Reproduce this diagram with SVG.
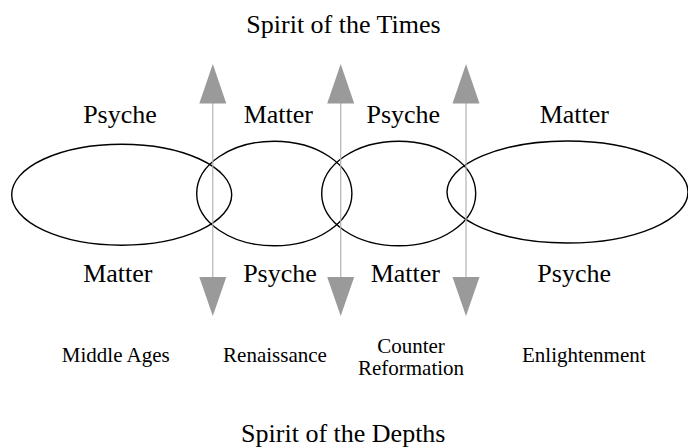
<svg xmlns="http://www.w3.org/2000/svg" width="688" height="448" viewBox="0 0 688 448">
  <style>
    .lbl { font-family: "Liberation Serif", "Times New Roman", serif; fill: #000; text-anchor: middle; }
    .big { font-size: 26px; }
    .era { font-size: 21px; }
    .ring { fill: none; stroke: #000; stroke-width: 1.4; }
    .axis { stroke: #b3b3b3; stroke-width: 1.2; fill: none; }
    .head { fill: #9a9a9a; stroke: none; }
  </style>
  <defs>
    <!-- double-headed vertical arrow, centred at x=0 -->
    <g id="dbl-arrow">
      <line class="axis" x1="0" y1="100" x2="0" y2="280"/>
      <polygon class="head" points="0,64 13.5,103.5 -13.5,103.5"/>
      <polygon class="head" points="0,316 13.5,277 -13.5,277"/>
    </g>
  </defs>
  <rect width="688" height="448" fill="#fff"/>

  <text id="title-top" class="lbl big" x="343.5" y="33">Spirit of the Times</text>

  <g id="ellipses">
    <g id="middle-ages"><ellipse class="ring" cx="121.7" cy="194.7" rx="110" ry="50.5"/></g>
    <g id="renaissance"><ellipse class="ring" cx="274.3" cy="193.5" rx="77.6" ry="52.3"/></g>
    <g id="counter-reformation"><ellipse class="ring" cx="398.7" cy="193.5" rx="77" ry="52.3"/></g>
    <g id="enlightenment"><ellipse class="ring" cx="567.5" cy="192" rx="120.5" ry="51"/></g>
  </g>

  <g id="connectors">
    <use href="#dbl-arrow" x="212.8"/>
    <use href="#dbl-arrow" x="340.7"/>
    <use href="#dbl-arrow" x="466"/>
  </g>

  <g id="upper-labels">
    <text class="lbl big" x="120" y="123.3">Psyche</text>
    <text class="lbl big" x="278.3" y="123.3">Matter</text>
    <text class="lbl big" x="403.3" y="123.3">Psyche</text>
    <text class="lbl big" x="574.3" y="123.3">Matter</text>
  </g>

  <g id="lower-labels">
    <text class="lbl big" x="117.8" y="281.7">Matter</text>
    <text class="lbl big" x="280" y="281.7">Psyche</text>
    <text class="lbl big" x="405.3" y="281.7">Matter</text>
    <text class="lbl big" x="574.2" y="281.7">Psyche</text>
  </g>

  <g id="era-labels">
    <text class="lbl era" x="115.8" y="361.7">Middle Ages</text>
    <text class="lbl era" x="275" y="361.7">Renaissance</text>
    <text class="lbl era" x="411" y="353.3">Counter</text>
    <text class="lbl era" x="411" y="375">Reformation</text>
    <text class="lbl era" x="583.8" y="361.7">Enlightenment</text>
  </g>

  <text id="title-bottom" class="lbl big" x="343.3" y="442">Spirit of the Depths</text>
</svg>
